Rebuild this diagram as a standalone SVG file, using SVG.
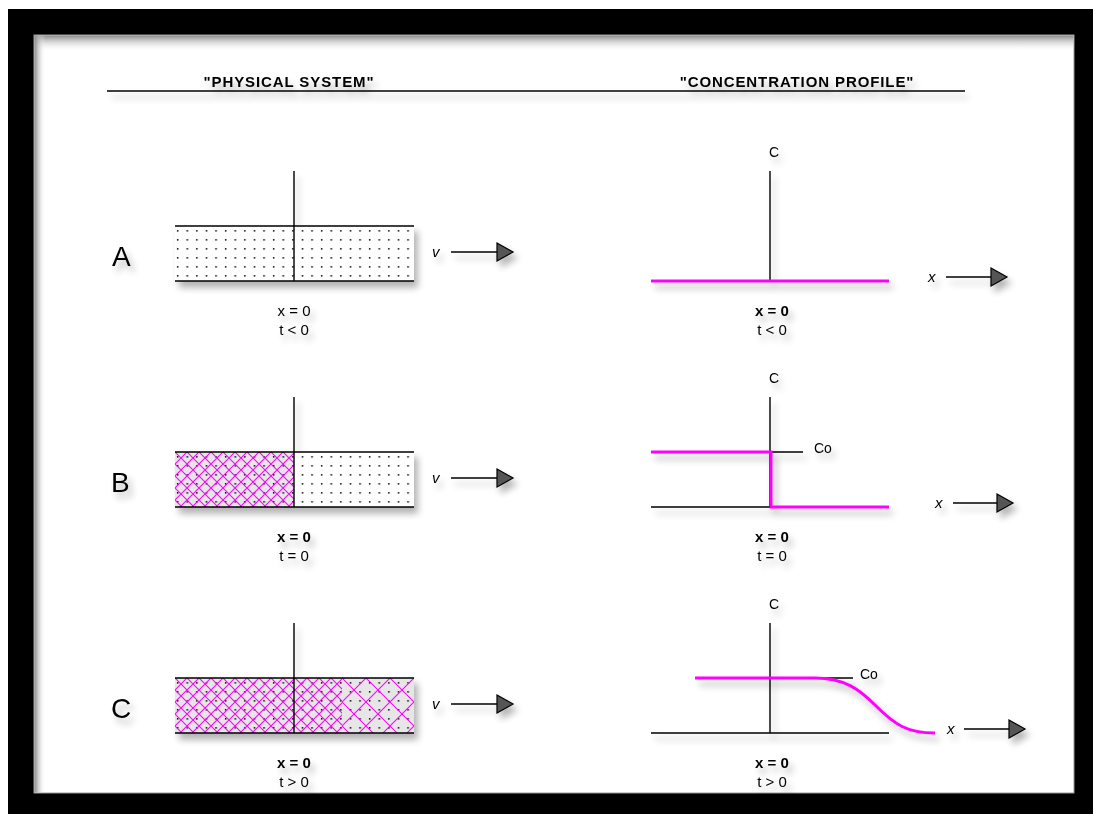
<svg xmlns="http://www.w3.org/2000/svg" width="1093" height="814" viewBox="0 0 1093 814">
  <style>
    text { font-family: "Liberation Sans", Arial, sans-serif; fill: #000; }
    .hdr { font-size: 15px; font-weight: bold; letter-spacing: 0.9px; }
    .row { font-size: 28px; }
    .lbl { font-size: 15px; text-anchor: middle; }
    .b { font-weight: bold; }
    .ax { font-size: 14px; }
    .var { font-size: 15px; font-style: italic; }
    .ln { stroke: #000; stroke-width: 1.4; fill: none; }
    .mg { stroke: #ff00ff; stroke-width: 3; fill: none; }
    .arr { stroke: #000; stroke-width: 1.4; fill: none; marker-end: url(#tri); }
  </style>
  <defs>
    <!-- soft drop shadow used for all drawn content -->
    <filter id="shadow" filterUnits="userSpaceOnUse" x="0" y="0" width="1093" height="814">
      <feGaussianBlur in="SourceAlpha" stdDeviation="3.5"/>
      <feOffset dx="4" dy="6"/>
      <feComponentTransfer><feFuncA type="linear" slope="0.3"/></feComponentTransfer>
      <feMerge><feMergeNode/><feMergeNode in="SourceGraphic"/></feMerge>
    </filter>
    <linearGradient id="topShade" x1="0" y1="0" x2="0" y2="1">
      <stop offset="0" stop-color="#8a8a8a"/>
      <stop offset="1" stop-color="#fff" stop-opacity="0"/>
    </linearGradient>
    <linearGradient id="leftShade" x1="0" y1="0" x2="1" y2="0">
      <stop offset="0" stop-color="#8a8a8a"/>
      <stop offset="1" stop-color="#fff" stop-opacity="0"/>
    </linearGradient>
    <!-- dotted fill of the flow channel -->
    <pattern id="dots" patternUnits="userSpaceOnUse" x="176" y="226" width="9.6" height="9">
      <rect x="0.9" y="4.1" width="1.5" height="1.5" fill="#000"/>
    </pattern>
    <!-- magenta cross-hatching, fine and coarse -->
    <pattern id="hatchFine" patternUnits="userSpaceOnUse" x="175" y="226" width="12" height="12">
      <path d="M0,0 L12,12 M12,0 L0,12" stroke="#ff00ff" stroke-width="1.1"/>
    </pattern>
    <pattern id="hatchCoarse" patternUnits="userSpaceOnUse" x="342" y="226" width="24" height="24">
      <path d="M0,0 L24,24 M24,0 L0,24" stroke="#ff00ff" stroke-width="1.1"/>
    </pattern>
    <marker id="tri" markerUnits="userSpaceOnUse" viewBox="0 0 20 22" markerWidth="20" markerHeight="22" refX="1" refY="10" orient="auto">
      <path d="M1,1 L17,10 L1,19 Z" fill="#555" stroke="#000" stroke-width="1.2"/>
    </marker>
  </defs>

  <!-- frame -->
  <rect x="8" y="9" width="1090" height="810" fill="#000"/>
  <rect x="34" y="35" width="1040" height="758" fill="#fff" stroke="#999" stroke-width="1"/>
  <rect x="34.5" y="35.5" width="1039" height="16" fill="url(#topShade)"/>
  <rect x="34.5" y="35.5" width="11" height="757" fill="url(#leftShade)"/>

  <g filter="url(#shadow)">
    <!-- column headers -->
    <g id="header-physical">
      <text class="hdr" x="289" y="87" text-anchor="middle">"PHYSICAL SYSTEM"</text>
    </g>
    <g id="header-profile">
      <text class="hdr" x="797" y="87" text-anchor="middle">"CONCENTRATION PROFILE"</text>
    </g>
    <g id="header-rule">
      <path class="ln" d="M107,91 H965"/>
    </g>

    <!-- row A: physical system, t < 0 -->
    <g id="physical-a">
      <rect x="175" y="226" width="239" height="55" fill="#fff"/>
      <rect x="175" y="226" width="239" height="55" fill="url(#dots)"/>
      <path class="ln" d="M175,226 H414 M175,281 H414 M294,171 V281"/>
      <text class="row" x="112" y="266">A</text>
      <text class="lbl" x="294" y="316">x = 0</text>
      <text class="lbl" x="294" y="335">t &lt; 0</text>
    </g>

    <!-- row B: physical system, t = 0 -->
    <g id="physical-b" transform="translate(0,226)">
      <rect x="175" y="226" width="119" height="55" fill="#e6e6e6"/>
      <rect x="294" y="226" width="120" height="55" fill="#fff"/>
      <rect x="175" y="226" width="239" height="55" fill="url(#dots)"/>
      <rect x="175" y="226" width="119" height="55" fill="url(#hatchFine)"/>
      <path class="ln" d="M175,226 H414 M175,281 H414 M294,171 V281"/>
      <text class="row" x="111" y="266">B</text>
      <text class="lbl b" x="294" y="316">x = 0</text>
      <text class="lbl" x="294" y="335">t = 0</text>
    </g>

    <!-- row C: physical system, t > 0 -->
    <g id="physical-c" transform="translate(0,452)">
      <rect x="175" y="226" width="239" height="55" fill="#e6e6e6"/>
      <rect x="175" y="226" width="239" height="55" fill="url(#dots)"/>
      <rect x="175" y="226" width="167" height="55" fill="url(#hatchFine)"/>
      <rect x="342" y="226" width="72" height="55" fill="url(#hatchCoarse)"/>
      <path class="ln" d="M175,226 H414 M175,281 H414 M294,171 V281"/>
      <text class="row" x="111" y="266">C</text>
      <text class="lbl b" x="294" y="316">x = 0</text>
      <text class="lbl" x="294" y="335">t &gt; 0</text>
    </g>

    <!-- row A: concentration profile -->
    <g id="profile-a">
      <text class="ax" x="774" y="157" text-anchor="middle">C</text>
      <path class="ln" d="M770,171 V281"/>
      <path class="mg" d="M651,281 H889"/>
      <text class="lbl b" x="772" y="316">x = 0</text>
      <text class="lbl" x="772" y="335">t &lt; 0</text>
    </g>

    <!-- row B: concentration profile -->
    <g id="profile-b" transform="translate(0,226)">
      <text class="ax" x="774" y="157" text-anchor="middle">C</text>
      <path class="ln" d="M770,171 V281 M651,281 H770 M770,226 H803"/>
      <path class="mg" d="M651,226 H771 V281 H889"/>
      <text class="ax" x="814" y="227">Co</text>
      <text class="lbl b" x="772" y="316">x = 0</text>
      <text class="lbl" x="772" y="335">t = 0</text>
    </g>

    <!-- row C: concentration profile -->
    <g id="profile-c" transform="translate(0,452)">
      <text class="ax" x="774" y="157" text-anchor="middle">C</text>
      <path class="ln" d="M770,171 V281 M651,281 H889 M815,226 H853"/>
      <path class="mg" d="M695,226 H815 C845,226 860,238 875,253 C895,273 907,281 935,281"/>
      <text class="ax" x="860" y="227">Co</text>
      <text class="lbl b" x="772" y="316">x = 0</text>
      <text class="lbl" x="772" y="335">t &gt; 0</text>
    </g>

    <!-- velocity and distance direction arrows -->
    <g id="connectors">
      <text class="var" x="432" y="257">v</text>
      <path class="arr" d="M451,252 H497"/>
      <text class="var" x="432" y="483">v</text>
      <path class="arr" d="M451,478 H497"/>
      <text class="var" x="432" y="709">v</text>
      <path class="arr" d="M451,704 H497"/>

      <text class="var" x="928" y="282">x</text>
      <path class="arr" d="M946,277 H991"/>
      <text class="var" x="935" y="508">x</text>
      <path class="arr" d="M953,503 H997"/>
      <text class="var" x="947" y="734">x</text>
      <path class="arr" d="M964,729 H1009"/>
    </g>
  </g>
</svg>
